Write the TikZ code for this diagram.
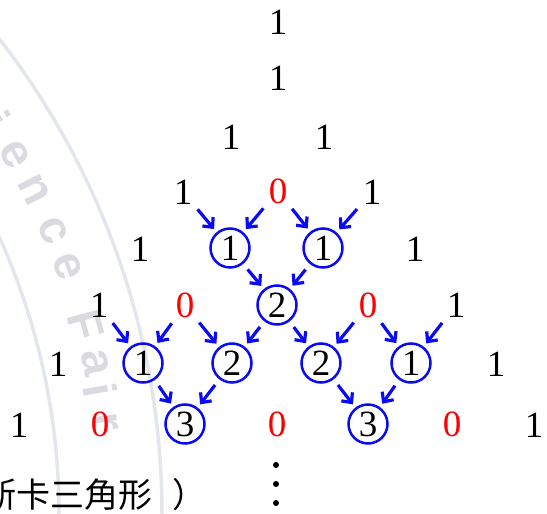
\documentclass[tikz,border=0pt]{standalone}
\usepackage{fontspec}
\setmainfont{Liberation Serif}
\newfontfamily\cjkfont{Noto Sans CJK TC}
\newfontfamily\wmfont{Liberation Sans}
\usetikzlibrary{arrows.meta,calc}
\definecolor{wmline}{RGB}{228,230,238}
\definecolor{wmtext}{RGB}{218,218,224}
\definecolor{arrblue}{RGB}{10,10,245}
\begin{document}
\begin{tikzpicture}[x=1pt,y=1pt,
  num/.style={circle,minimum size=39pt,inner sep=0pt,font=\fontsize{37}{37}\selectfont},
  zero/.style={num,text=red},
  cnum/.style={num,draw=arrblue,line width=2.5pt},
  arr/.style={draw=arrblue,line width=3.2pt,-{Straight Barb[length=7.5pt,width=14pt]},shorten <=3pt,shorten >=4pt},
  carr/.style={arr,shorten <=7pt},
  wml/.style={draw=wmline,line width=3.5pt},
  wmt/.style={text=wmtext,font=\wmfont\bfseries\fontsize{47}{47}\selectfont}]
\useasboundingbox (0,0) rectangle (547,514);
\clip (0,0) rectangle (547,514);
% watermark
\draw[wml] (162,0) arc[start angle=0,end angle=40,radius=775];
\draw[wml] (59,0) arc[start angle=0,end angle=45,radius=672];
\foreach \ch/\ang in {i/32.8,e/29.8,n/26.6,c/23.0,e/20.0,F/15.1,a/12.1,i/9.9,r/7.3}
  \node[wmt,rotate=\ang-90] at ([shift={(-613,0)}]\ang:724) {\ch};
% rows
\node[num] (a0) at (278,492) {1};
\node[num] (b0) at (278,436) {1};
\node[num] (c0) at (231,377) {1};
\node[num] (c1) at (324,377) {1};
\node[num] (d0) at (183,322) {1};
\node[zero] (d1) at (278,323) {0};
\node[num] (d2) at (372,322) {1};
\node[num] (e0) at (140,265) {1};
\node[cnum] (e1) at (230,266) {1};
\node[cnum] (e2) at (323,266) {1};
\node[num] (e3) at (415,265) {1};
\node[num] (f0) at (99,209) {1};
\node[zero] (f1) at (185,209) {0};
\node[cnum] (f2) at (277,209) {2};
\node[zero] (f3) at (368,209) {0};
\node[num] (f4) at (456,209) {1};
\node[num] (g0) at (58,150) {1};
\node[cnum] (g1) at (143,151) {1};
\node[cnum] (g2) at (232,151) {2};
\node[cnum] (g3) at (321,151) {2};
\node[cnum] (g4) at (411,151) {1};
\node[num] (g5) at (496,150) {1};
\node[num] (h0) at (19,89) {1};
\node[zero] (h1) at (100,90) {0};
\node[cnum] (h2) at (185,90) {3};
\node[zero] (h3) at (277,90) {0};
\node[cnum] (h4) at (368,90) {3};
\node[zero] (h5) at (452,90) {0};
\node[num] (h6) at (534,89) {1};
% arrows
\draw[arr] (d0) -- (e1);
\draw[arr] (d1) -- (e1);
\draw[arr] (d1) -- (e2);
\draw[arr] (d2) -- (e2);
\draw[carr] (e1) -- (f2);
\draw[carr] (e2) -- (f2);
\draw[arr] (f0) -- (g1);
\draw[arr] (f1) -- (g1);
\draw[arr] (f1) -- (g2);
\draw[carr] (f2) -- (g2);
\draw[carr] (f2) -- (g3);
\draw[arr] (f3) -- (g3);
\draw[arr] (f3) -- (g4);
\draw[arr] (f4) -- (g4);
\draw[carr] (g1) -- (h2);
\draw[carr] (g2) -- (h2);
\draw[carr] (g3) -- (h4);
\draw[carr] (g4) -- (h4);
% vertical dots
\fill (276,49) circle (3);
\fill (276,30) circle (3);
\fill (276,11) circle (3);
% caption (cut at the left edge)
\node[anchor=west,inner sep=0pt,font=\cjkfont\fontsize{34}{34}\selectfont] (cap) at (-18,19) {斯卡三角形\hspace{20pt}）};
\end{tikzpicture}
\end{document}
